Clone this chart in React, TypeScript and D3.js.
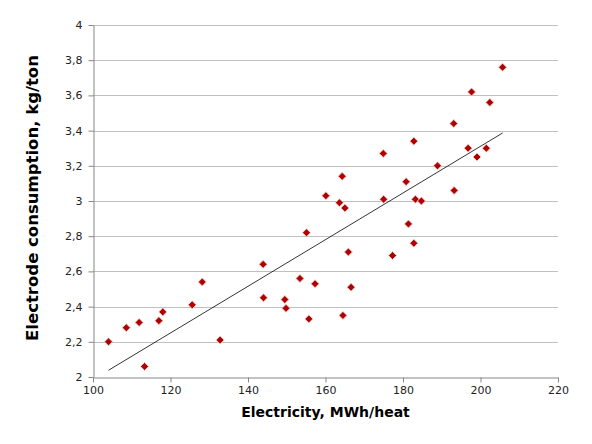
import { useEffect, useRef } from 'react';
import * as d3 from 'd3';

// Electricity per heat (MWh) and electrode consumption (kg/ton)
const electricity = [
  104.0, 108.6, 111.9, 113.3, 117.0, 118.0, 125.6, 128.2, 132.8, 143.9,
  144.0, 149.5, 149.8, 153.4, 155.1, 155.7, 157.3, 160.1, 163.6, 164.3,
  165.0, 165.9, 166.6, 164.5, 174.9, 175.0, 177.3, 180.8, 181.4, 182.8,
  182.8, 183.2, 184.75, 188.9, 193.1, 193.2, 196.8, 197.7, 199.1, 201.5,
  202.4, 205.7,
];
const consumption = [
  2.20, 2.28, 2.31, 2.06, 2.32, 2.37, 2.41, 2.54, 2.21, 2.64,
  2.45, 2.44, 2.39, 2.56, 2.82, 2.33, 2.53, 3.03, 2.99, 3.14,
  2.96, 2.71, 2.51, 2.35, 3.27, 3.01, 2.69, 3.11, 2.87, 2.76,
  3.34, 3.01, 3.00, 3.20, 3.44, 3.06, 3.30, 3.62, 3.25, 3.30,
  3.56, 3.76,
];

const xTicks = [100, 120, 140, 160, 180, 200, 220];
const yTicks = [2, 2.2, 2.4, 2.6, 2.8, 3, 3.2, 3.4, 3.6, 3.8, 4];

const xTitle = 'Electricity, MWh/heat';
const yTitle = 'Electrode consumption, kg/ton';

const width = 592;
const height = 444;

const App = () => {
  const svgRef = useRef<SVGSVGElement>(null);

  useEffect(() => {
    if (!svgRef.current) return;
    d3.select(svgRef.current).selectAll('*').remove();

    const margin = { top: 25, right: 34, bottom: 67, left: 93 };
    const innerWidth = width - margin.left - margin.right;
    const innerHeight = height - margin.top - margin.bottom;

    const svg = d3.select(svgRef.current)
      .attr('width', width)
      .attr('height', height);

    const g = svg.append('g')
      .attr('transform', `translate(${margin.left},${margin.top})`);

    const xScale = d3.scaleLinear().domain([100, 220]).range([0, innerWidth]);
    const yScale = d3.scaleLinear().domain([2, 4]).range([innerHeight, 0]);

    const fmt = (v: number) => d3.format('~g')(v).replace('.', ',');

    // Grid lines
    g.append('g')
      .selectAll('line')
      .data(yTicks.slice(1))
      .join('line')
      .attr('x1', 0)
      .attr('x2', innerWidth)
      .attr('y1', d => Math.round(yScale(d)) + 0.5)
      .attr('y2', d => Math.round(yScale(d)) + 0.5)
      .attr('stroke', '#c0c0c0')
      .attr('stroke-width', 1);

    // X axis
    const xAxis = g.append('g')
      .attr('transform', `translate(0,${Math.round(innerHeight) + 0.5})`)
      .call(d3.axisBottom(xScale).tickValues(xTicks).tickSize(5).tickSizeOuter(0).tickPadding(4));
    xAxis.select('.domain').attr('stroke', '#868686');
    xAxis.selectAll('.tick line').attr('stroke', '#868686');
    xAxis.selectAll('text')
      .attr('font-family', 'DejaVu Sans, Verdana, sans-serif')
      .attr('font-size', '11px')
      .attr('fill', '#222');

    // Y axis
    const yAxis = g.append('g')
      .attr('transform', 'translate(0.5,0)')
      .call(d3.axisLeft(yScale).tickValues(yTicks).tickFormat(d => fmt(d as number)).tickSize(5).tickSizeOuter(0).tickPadding(6));
    yAxis.select('.domain').attr('stroke', '#868686');
    yAxis.selectAll('.tick line').attr('stroke', '#868686');
    yAxis.selectAll('text')
      .attr('font-family', 'DejaVu Sans, Verdana, sans-serif')
      .attr('font-size', '11px')
      .attr('fill', '#222');

    // Linear trend line (least squares)
    const pts = electricity.map((x, i) => [x, consumption[i]] as [number, number]);
    const mx = d3.mean(electricity) as number;
    const my = d3.mean(consumption) as number;
    const slope = d3.sum(pts, p => (p[0] - mx) * (p[1] - my)) / d3.sum(pts, p => (p[0] - mx) ** 2);
    const intercept = my - slope * mx;
    const [x0, x1] = d3.extent(electricity) as [number, number];

    g.append('line')
      .attr('x1', xScale(x0))
      .attr('y1', yScale(intercept + slope * x0))
      .attr('x2', xScale(x1))
      .attr('y2', yScale(intercept + slope * x1))
      .attr('stroke', '#000')
      .attr('stroke-width', 0.8);

    // Diamond markers
    const diamond = d3.symbol().type(d3.symbolSquare).size(32);
    g.selectAll('.pt')
      .data(pts)
      .join('path')
      .attr('class', 'pt')
      .attr('d', diamond)
      .attr('transform', d => `translate(${xScale(d[0])},${yScale(d[1])}) rotate(45)`)
      .attr('fill', '#b00000')
      .attr('stroke', '#ecd0d0')
      .attr('stroke-width', 0.8);

    // Axis titles
    svg.append('text')
      .attr('x', margin.left + innerWidth / 2)
      .attr('y', 417)
      .attr('text-anchor', 'middle')
      .attr('font-family', 'DejaVu Sans, Verdana, sans-serif')
      .attr('font-size', '14px')
      .attr('font-weight', 'bold')
      .attr('fill', '#000')
      .text(xTitle);

    svg.append('text')
      .attr('transform', `translate(38,${margin.top + innerHeight / 2 - 3}) rotate(-90)`)
      .attr('text-anchor', 'middle')
      .attr('font-family', 'DejaVu Sans, Verdana, sans-serif')
      .attr('font-size', '16.5px')
      .attr('font-weight', 'bold')
      .attr('fill', '#000')
      .text(yTitle);
  }, []);

  return (
    <svg
      ref={svgRef}
      style={{ position: 'absolute', left: 0, top: 0, background: '#fff' }}
    />
  );
};

export default App;
